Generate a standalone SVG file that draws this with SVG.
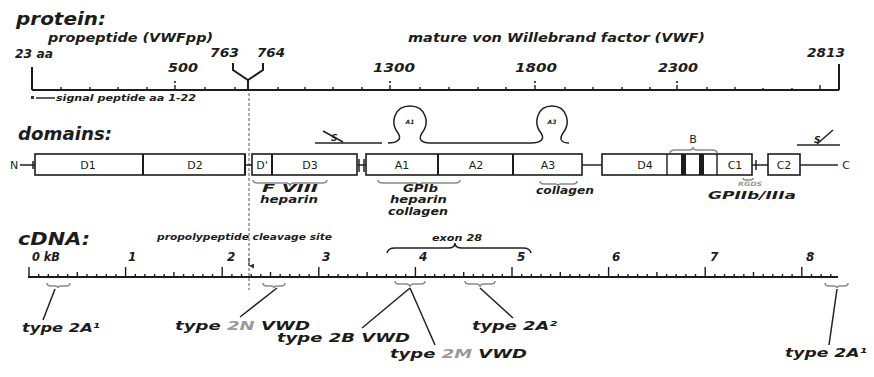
<svg xmlns="http://www.w3.org/2000/svg" width="874" height="377" viewBox="0 0 874 377">
<defs>
<style>
.t{font-family:"DejaVu Sans",sans-serif;font-style:italic;font-weight:bold;fill:#1c1c1c}
.hd{font-size:18px}
.m{font-size:12px}
.s{font-size:8px}
.ty{font-size:13px}
.bd{font-size:10px}
.lb{font-family:"DejaVu Sans",sans-serif;font-size:11px;fill:#1c1c1c;text-anchor:middle}
.gr{fill:#9a9a9a}
.ax{stroke:#1c1c1c;stroke-width:2;fill:none}
.tk{stroke:#1c1c1c;stroke-width:1.4;fill:none}
.box{fill:#fff;stroke:#1c1c1c;stroke-width:1.6}
.ln{stroke:#222;stroke-width:1.5;fill:none}
.br{stroke:#8a8a8a;stroke-width:1.5;fill:none}
.dash{stroke:#555;stroke-width:1;stroke-dasharray:3 2;fill:none}
</style>
<marker id="arr" viewBox="0 0 6 6" refX="3" refY="6" markerWidth="5" markerHeight="5" orient="auto-start-reverse" markerUnits="userSpaceOnUse">
<path d="M0,0 L3,6 L6,0 Z" fill="#333"/>
</marker>
</defs>
<rect width="874" height="377" fill="#fff"/>

<!-- PROTEIN -->
<g id="protein">
<text class="t hd" x="16" y="25" textLength="90" lengthAdjust="spacingAndGlyphs">protein:</text>
<text class="t m" x="48" y="42" textLength="165" lengthAdjust="spacingAndGlyphs">propeptide (VWFpp)</text>
<text class="t m" x="408" y="42" textLength="297" lengthAdjust="spacingAndGlyphs">mature von Willebrand factor (VWF)</text>
<text class="t m" x="15" y="58" textLength="38" lengthAdjust="spacingAndGlyphs">23 aa</text>
<text class="t m" x="210" y="57" textLength="29" lengthAdjust="spacingAndGlyphs">763</text>
<text class="t m" x="257" y="57" textLength="28" lengthAdjust="spacingAndGlyphs">764</text>
<text class="t m" x="168" y="72" textLength="30" lengthAdjust="spacingAndGlyphs">500</text>
<text class="t m" x="373" y="72" textLength="42" lengthAdjust="spacingAndGlyphs">1300</text>
<text class="t m" x="515" y="72" textLength="42" lengthAdjust="spacingAndGlyphs">1800</text>
<text class="t m" x="658" y="72" textLength="40" lengthAdjust="spacingAndGlyphs">2300</text>
<text class="t m" x="807" y="57" textLength="38" lengthAdjust="spacingAndGlyphs">2813</text>
<line class="ax" x1="32" y1="90" x2="839" y2="90"/>
<path class="ax" d="M32 67V90M839 64V90"/>
<path class="tk" d="M61 90v-3M90 90v-3M118 90v-3M147 90v-3M205 90v-3M235 90v-3M278 90v-3M305 90v-3M333 90v-3M362 90v-3M420 90v-3M449 90v-3M478 90v-3M506 90v-3M565 90v-3M593 90v-3M622 90v-3M650 90v-3M707 90v-3M735 90v-3M763 90v-2M792 90v-2M820 90v-5"/>
<path class="tk" d="M175 90v-5M390 90v-5M535 90v-5M677 90v-5"/>
<g fill="#1c1c1c"><circle cx="175" cy="82" r="1.1"/><circle cx="390" cy="82" r="1.1"/><circle cx="535" cy="82" r="1.1"/><circle cx="677" cy="82" r="1.1"/></g>
<path class="ax" d="M233 63V70L248 80L263 70V63M248 80V91"/>
<rect x="31" y="96" width="3" height="3" fill="#333"/>
<line class="tk" x1="36" y1="98" x2="55" y2="98" stroke-width="1"/>
<text class="t s" x="56" y="101" textLength="140" lengthAdjust="spacingAndGlyphs">signal peptide aa 1-22</text>
</g>

<!-- connectors -->
<g id="connectors">
<line class="dash" x1="249" y1="93" x2="249" y2="290"/>
<line x1="249" y1="258" x2="249" y2="266" stroke="#333" stroke-width="1" marker-end="url(#arr)"/>
<path class="ln" d="M55 289L43 320"/>
<path class="ln" d="M277 288L240 317" stroke="#555"/>
<path class="ln" d="M410 288L362 328"/>
<path class="ln" d="M410 288L435 345"/>
<path class="ln" d="M480 288L513 318" stroke="#555"/>
<path class="ln" d="M837 289L829 345"/>
</g>

<!-- DOMAINS -->
<g id="domains">
<text class="t hd" x="18" y="140" textLength="94" lengthAdjust="spacingAndGlyphs">domains:</text>
<text class="lb" x="14" y="169" font-size="12">N</text>
<path class="ln" d="M20 165H35M33 161V169"/>
</g>
<g id="box-D1-D2">
<rect class="box" x="35" y="154" width="210" height="21"/>
<line class="ax" x1="143" y1="154" x2="143" y2="175"/>
<line class="ax" x1="245" y1="154" x2="245" y2="175" stroke-width="2.5"/>
<text class="lb" x="88" y="169">D1</text>
<text class="lb" x="195" y="169">D2</text>
<path class="ln" d="M245 165H252"/>
</g>
<g id="box-D3">
<rect class="box" x="252" y="154" width="105" height="21"/>
<line class="ax" x1="272" y1="154" x2="272" y2="175"/>
<text class="lb" x="262" y="169">D'</text>
<text class="lb" x="310" y="169">D3</text>
<path class="ln" d="M357 165H366M359 159V172M364 159V172" stroke-width="1.8"/>
</g>
<g id="box-A">
<rect class="box" x="366" y="154" width="216" height="21"/>
<line class="ax" x1="438" y1="154" x2="438" y2="175"/>
<line class="ax" x1="513" y1="154" x2="513" y2="175"/>
<text class="lb" x="402" y="169">A1</text>
<text class="lb" x="476" y="169">A2</text>
<text class="lb" x="548" y="169">A3</text>
<path class="ln" d="M582 165H602"/>
</g>
<g id="box-D4-C1">
<rect class="box" x="602" y="154" width="150" height="21"/>
<line class="tk" x1="667" y1="154" x2="667" y2="175"/>
<rect x="681" y="154" width="5" height="21" fill="#1c1c1c"/>
<rect x="699" y="154" width="5" height="21" fill="#1c1c1c"/>
<line class="tk" x1="717" y1="154" x2="717" y2="175"/>
<text class="lb" x="645" y="169">D4</text>
<text class="lb" x="735" y="169">C1</text>
<path class="ln" d="M752 165H768M756 160V170"/>
</g>
<g id="box-C2">
<rect class="box" x="768" y="154" width="32" height="21" stroke="#666" stroke-width="2"/>
<text class="lb" x="784" y="169">C2</text>
<path class="ln" d="M800 165H838"/>
<text class="lb" x="846" y="169" font-size="12">C</text>
</g>
<g id="loops">
<path class="ln" d="M388 143C398 143 402 139 398 133C390 123 394 106 410 106C426 106 430 123 422 133C418 139 421 143 430 143L531 143C541 143 545 139 541 133C533 123 537 106 552 106C567 106 571 123 563 133C559 139 561 143 569 143"/>
<text class="t" x="410" y="124" font-size="6" text-anchor="middle">A1</text>
<text class="t" x="552" y="124" font-size="6" text-anchor="middle">A3</text>
</g>
<g id="ss-left">
<path class="ln" d="M315 143H382" stroke-width="1.3"/>
<path class="ln" d="M323 131L343 142" stroke-width="1.2"/>
<text class="t" x="331" y="141" font-size="9">S</text>
</g>
<g id="ss-right">
<path class="ln" d="M797 145H840" stroke-width="1.3"/>
<path class="ln" d="M817 144L833 130" stroke-width="1.2"/>
<text class="t" x="814" y="143" font-size="9">S</text>
</g>
<g id="B-label">
<text class="lb" x="693" y="143" font-size="12">B</text>
<path class="br" d="M670 153Q670 150 675 150L689 150Q693 150 693 147Q693 150 697 150L712 150Q717 150 717 153"/>
</g>
<g id="binding">
<path class="br" d="M253 180Q253 183 258 183L286 183Q290 183 290 186Q290 183 294 183L322 183Q327 183 327 180"/>
<text class="t bd" x="262" y="192" textLength="56" lengthAdjust="spacingAndGlyphs">F VIII</text>
<text class="t bd" x="260" y="203" textLength="58" lengthAdjust="spacingAndGlyphs">heparin</text>
<path class="br" d="M378 180Q378 183 383 183L415 183Q419 183 419 186Q419 183 423 183L455 183Q460 183 460 180"/>
<text class="t bd" x="403" y="192" textLength="35" lengthAdjust="spacingAndGlyphs">GPIb</text>
<text class="t bd" x="390" y="203" textLength="57" lengthAdjust="spacingAndGlyphs">heparin</text>
<text class="t bd" x="388" y="215" textLength="60" lengthAdjust="spacingAndGlyphs">collagen</text>
<path class="br" d="M540 181Q540 184 544 184L555 184Q558 184 558 186Q558 184 561 184L573 184Q577 184 577 181"/>
<text class="t bd" x="536" y="194" textLength="58" lengthAdjust="spacingAndGlyphs">collagen</text>
<path class="br" d="M743 178Q743 180 746 180L750 180Q753 180 753 178" stroke-width="1"/>
<text class="t gr" x="738" y="186" font-size="6" textLength="24" lengthAdjust="spacingAndGlyphs">RGDS</text>
<text class="t bd" x="708" y="199" textLength="88" lengthAdjust="spacingAndGlyphs">GPIIb/IIIa</text>
</g>

<!-- cDNA -->
<g id="cdna">
<text class="t hd" x="18" y="245" textLength="72" lengthAdjust="spacingAndGlyphs">cDNA:</text>
<text class="t s" x="157" y="240" textLength="175" lengthAdjust="spacingAndGlyphs">propolypeptide cleavage site</text>
<text class="t s" x="432" y="241" textLength="50" lengthAdjust="spacingAndGlyphs">exon 28</text>
<path class="ln" d="M387 253Q388 248 395 248L448 248Q455 248 455 243Q455 248 462 248L523 248Q530 248 531 253" stroke-width="1.2"/>
<text class="t m" x="32" y="261" textLength="28" lengthAdjust="spacingAndGlyphs">0 kB</text>
<text class="t m" x="128" y="261">1</text>
<text class="t m" x="227" y="261">2</text>
<text class="t m" x="322" y="261">3</text>
<text class="t m" x="419" y="261">4</text>
<text class="t m" x="517" y="261">5</text>
<text class="t m" x="612" y="261">6</text>
<text class="t m" x="710" y="261">7</text>
<text class="t m" x="806" y="261">8</text>
<line class="ax" x1="28" y1="277" x2="838" y2="277"/>
<path class="tk" d="M38.7 277v-3M48.3 277v-3M58 277v-3M67.6 277v-3M87 277v-3M96.6 277v-3M106.3 277v-3M115.9 277v-3M135.3 277v-3M144.9 277v-3M154.6 277v-3M164.2 277v-3M183.6 277v-3M193.2 277v-3M202.9 277v-3M212.5 277v-3M231.9 277v-3M241.5 277v-3M251.2 277v-3M260.8 277v-3M280.2 277v-3M289.8 277v-3M299.5 277v-3M309.1 277v-3M328.5 277v-3M338.1 277v-3M347.8 277v-3M357.4 277v-3M376.8 277v-3M386.4 277v-3M396.1 277v-3M405.7 277v-3M425.1 277v-3M434.7 277v-3M444.4 277v-3M454 277v-3M473.4 277v-3M483 277v-3M492.7 277v-3M502.3 277v-3M521.7 277v-3M531.3 277v-3M541 277v-3M550.6 277v-3M570 277v-3M579.6 277v-3M589.3 277v-3M598.9 277v-3M618.3 277v-3M627.9 277v-3M637.6 277v-3M647.2 277v-3M666.6 277v-3M676.2 277v-3M685.9 277v-3M695.5 277v-3M714.9 277v-3M724.5 277v-3M734.2 277v-3M743.8 277v-3M763.2 277v-3M772.8 277v-3M782.5 277v-3M792.1 277v-3M811.5 277v-3M821.1 277v-3M830.8 277v-3"/>
<path class="tk" d="M77.3 277v-5M173.9 277v-5M270.5 277v-5M367.1 277v-5M463.7 277v-5M560.3 277v-5M656.9 277v-5M753.5 277v-5"/>
<path class="tk" d="M29 277v-10M125.6 277v-10M222.2 277v-10M318.8 277v-10M415.4 277v-10M512 277v-10M608.6 277v-10M705.2 277v-10M801.8 277v-10"/>
</g>
<g id="mutations">
<path class="br" d="M47 283Q47 286 51 286L55 286Q58 286 58 288Q58 286 61 286L66 286Q70 286 70 283"/>
<path class="br" d="M263 283Q263 286 267 286L271 286Q274 286 274 288Q274 286 277 286L281 286Q285 286 285 283"/>
<path class="br" d="M395 281Q395 284 399 284L406 284Q410 284 410 287Q410 284 414 284L421 284Q425 284 425 281"/>
<path class="br" d="M465 281Q465 284 469 284L476 284Q480 284 480 287Q480 284 484 284L491 284Q495 284 495 281"/>
<path class="br" d="M825 283Q825 286 829 286L833 286Q837 286 837 288Q837 286 840 286L844 286Q848 286 848 283"/>
<text class="t ty" x="22" y="332" textLength="78" lengthAdjust="spacingAndGlyphs">type 2A¹</text>
<text class="t ty" x="175" y="330" textLength="135" lengthAdjust="spacingAndGlyphs">type <tspan class="gr">2N</tspan> VWD</text>
<text class="t ty" x="277" y="342" textLength="133" lengthAdjust="spacingAndGlyphs">type 2B VWD</text>
<text class="t ty" x="390" y="358" textLength="137" lengthAdjust="spacingAndGlyphs">type <tspan class="gr">2M</tspan> VWD</text>
<text class="t ty" x="472" y="330" textLength="85" lengthAdjust="spacingAndGlyphs">type 2A²</text>
<text class="t ty" x="785" y="357" textLength="82" lengthAdjust="spacingAndGlyphs">type 2A¹</text>
</g>
</svg>
